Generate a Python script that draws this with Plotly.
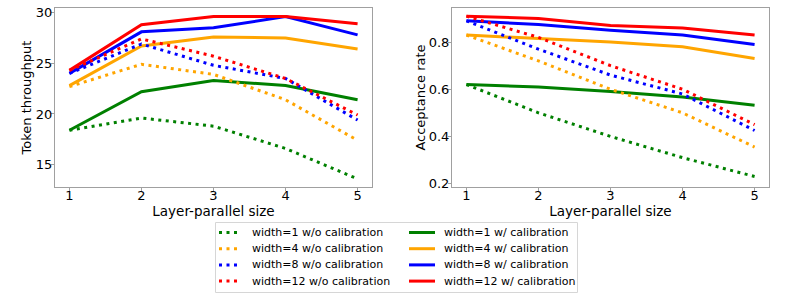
import plotly.graph_objects as go

x_sizes = [1, 2, 3, 4, 5]
widths = ["1", "4", "8", "12"]
colors = ["green", "orange", "blue", "red"]

# Token throughput
tp_wo = {
    "1": [18.4, 19.6, 18.8, 16.6, 13.6],
    "4": [22.7, 24.9, 23.9, 21.4, 17.4],
    "8": [24.0, 26.9, 24.8, 23.5, 19.4],
    "12": [24.3, 27.4, 25.7, 23.5, 19.9],
}
tp_w = {
    "1": [18.4, 22.2, 23.3, 22.8, 21.4],
    "4": [22.8, 26.7, 27.6, 27.5, 26.4],
    "8": [24.0, 28.1, 28.5, 29.6, 27.8],
    "12": [24.3, 28.8, 29.6, 29.6, 28.9],
}
# Acceptance rate
ar_wo = {
    "1": [0.62, 0.50, 0.40, 0.31, 0.23],
    "4": [0.83, 0.72, 0.60, 0.50, 0.355],
    "8": [0.89, 0.77, 0.66, 0.58, 0.425],
    "12": [0.91, 0.82, 0.70, 0.60, 0.45],
}
ar_w = {
    "1": [0.62, 0.61, 0.59, 0.567, 0.532],
    "4": [0.83, 0.815, 0.80, 0.78, 0.73],
    "8": [0.89, 0.875, 0.85, 0.83, 0.79],
    "12": [0.91, 0.90, 0.87, 0.86, 0.83],
}

FONT = "DejaVu Sans"
W, H = 793, 297
DOT = "3px,4.5px"

def px(x):
    return x / W

def py(y):
    return 1 - y / H

fig = go.Figure()

for w, c in zip(widths, colors):
    for calib, tp, ar, dash in [("w/o", tp_wo, ar_wo, DOT), ("w/", tp_w, ar_w, "solid")]:
        name = f"width={w} {calib} calibration"
        fig.add_trace(go.Scatter(x=x_sizes, y=tp[w], mode="lines", name=name,
                                 line=dict(color=c, width=3, dash=dash),
                                 showlegend=False, xaxis="x", yaxis="y"))
        fig.add_trace(go.Scatter(x=x_sizes, y=ar[w], mode="lines", name=name,
                                 line=dict(color=c, width=3, dash=dash),
                                 showlegend=False, xaxis="x2", yaxis="y2"))

# Legend (two columns: w/o calibration, then w/ calibration), drawn as layout decorations
shapes = [dict(type="rect", xref="paper", yref="paper", x0=px(215.5), x1=px(577.5),
               y0=py(292.5), y1=py(222.5), line=dict(color="#d6d6d6", width=1),
               fillcolor="white", layer="above")]
annotations = []
col_specs = [("w/o", DOT, 219, 250), ("w/", "solid", 409, 442)]
for ci, (calib, dash, sx, tx) in enumerate(col_specs):
    for ri, (w, c) in enumerate(zip(widths, colors)):
        yc = 232.5 + 16.2 * ri
        shapes.append(dict(type="line", xref="paper", yref="paper", x0=px(sx), x1=px(sx + 22 if dash == DOT else sx + 26),
                           y0=py(yc), y1=py(yc), line=dict(color=c, width=3, dash=dash), layer="above"))
        annotations.append(dict(text=f"width={w} {calib} calibration", xref="paper", yref="paper",
                                x=px(tx), y=py(yc), xanchor="left", yanchor="middle", showarrow=False,
                                font=dict(family=FONT, size=11, color="black")))

axis_common = dict(showgrid=False, zeroline=False, showline=True, linecolor="#a0a0a0",
                   linewidth=1, mirror=True, ticks="outside", ticklen=3, tickcolor="#a0a0a0",
                   tickfont=dict(family=FONT, size=13, color="black"), automargin=False)

fig.update_layout(
    width=W, height=H,
    margin=dict(l=0, r=0, t=0, b=0),
    paper_bgcolor="white", plot_bgcolor="white",
    font=dict(family=FONT, color="black"),
    showlegend=False,
    shapes=shapes,
    annotations=annotations,
    xaxis=dict(domain=[px(55), px(372)], range=[0.8, 5.2], tickvals=x_sizes, anchor="y",
               ticklabelstandoff=-7,
               title=dict(text="Layer-parallel size", font=dict(size=13.5), standoff=0), **axis_common),
    yaxis=dict(domain=[py(187), py(8)], range=[12.8, 30.45], tickvals=[15, 20, 25, 30],
               anchor="x", ticklabelstandoff=-4,
               title=dict(text="Token throughput", font=dict(size=13), standoff=1),
               **axis_common),
    xaxis2=dict(domain=[px(452), px(769)], range=[0.8, 5.2], tickvals=x_sizes, anchor="y2",
                ticklabelstandoff=-7,
                title=dict(text="Layer-parallel size", font=dict(size=13.5), standoff=0), **axis_common),
    yaxis2=dict(domain=[py(187), py(8)], range=[0.1855, 0.9445],
                tickvals=[0.2, 0.4, 0.6, 0.8], ticktext=["0.2", "0.4", "0.6", "0.8"],
                anchor="x2", ticklabelstandoff=-4,
                title=dict(text="Acceptance rate", font=dict(size=13), standoff=0),
                **axis_common),
)

fig.write_html("out.html", config={"displayModeBar": False},
               post_script="document.body.style.margin='0';")
